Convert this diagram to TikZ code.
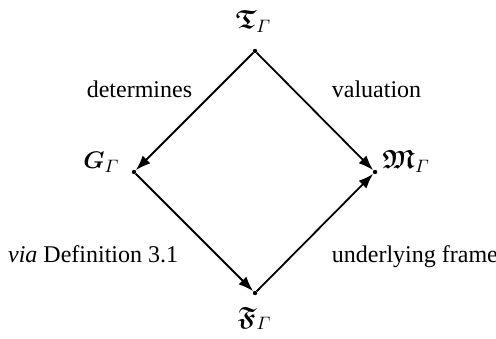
\documentclass[tikz,border=0pt,12pt]{standalone}
\usepackage{fontspec}
\setmainfont{Liberation Serif}
\usepackage{amsmath}
\usepackage{amssymb}
\usepackage{bm}
\usetikzlibrary{arrows.meta, positioning}

\begin{document}
\begin{tikzpicture}[
    x=0.5pt, y=-0.5pt,
    dot/.style={circle, fill=black, inner sep=0pt, minimum size=2.2pt},
    obj/.style={inner sep=0pt, font=\fontsize{13.2}{15}\selectfont},
    lbl/.style={inner sep=0pt},
    arrow/.style={-{Latex[length=7.5pt, width=5.5pt]}, line width=0.9pt}
]
    \useasboundingbox (0,0) rectangle (496,338);

    \node[dot] (tdot) at (255,51)  {};
    \node[dot] (gdot) at (134,172) {};
    \node[dot] (mdot) at (375,172) {};
    \node[dot] (fdot) at (255,293) {};

    \node[obj, anchor=base]      (tlab) at ([shift={(-0.75pt,11.5pt)}]tdot) {$\bm{\mathfrak{T}}_{\varGamma}$};
    \node[obj, anchor=base east] (glab) at ([shift={(-7pt,2pt)}]gdot)      {$\bm{G}_{\varGamma}$};
    \node[obj, anchor=base west] (mlab) at ([shift={(3.5pt,2pt)}]mdot)     {$\bm{\mathfrak{M}}_{\varGamma}$};
    \node[obj, anchor=base]      (flab) at ([shift={(-0.25pt,-16pt)}]fdot) {$\bm{\mathfrak{F}}_{\varGamma}$};

    \draw[arrow] (tdot) -- node[lbl, anchor=base east, xshift=-0.75pt, yshift=7.25pt]{determines} (gdot);
    \draw[arrow] (tdot) -- node[lbl, anchor=base west, xshift=8pt, yshift=7.25pt]{valuation} (mdot);
    \draw[arrow] (gdot) -- node[lbl, anchor=base east, xshift=-7.75pt, yshift=-14.75pt]{\emph{via} Definition 3.1} (fdot);
    \draw[arrow] (fdot) -- node[lbl, anchor=base west, xshift=8pt, yshift=-14.75pt]{underlying frame} (mdot);
\end{tikzpicture}
\end{document}
